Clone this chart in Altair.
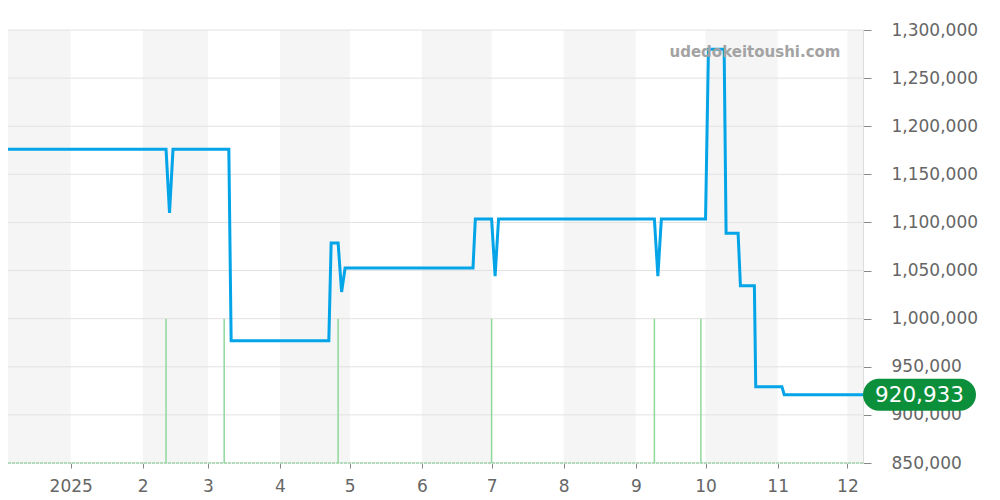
import altair as alt
import pandas as pd

# ---- data ----
line_dates = [
    "2024-12-01T14:00", "2025-02-11T00:00", "2025-02-12T12:00", "2025-02-14T00:00",
    "2025-03-10T00:00", "2025-03-11T00:00", "2025-04-22T00:00", "2025-04-23T00:00",
    "2025-04-26T00:00", "2025-04-27T12:00", "2025-04-29T00:00", "2025-06-23T00:00",
    "2025-06-24T00:00", "2025-07-01T00:00", "2025-07-02T12:00", "2025-07-04T00:00",
    "2025-09-09T00:00", "2025-09-10T12:00", "2025-09-12T00:00", "2025-10-01T00:00",
    "2025-10-02T06:00", "2025-10-09T00:00", "2025-10-09T20:00", "2025-10-15T00:00",
    "2025-10-16T00:00", "2025-10-22T00:00", "2025-10-22T14:00", "2025-11-02T20:00",
    "2025-11-03T20:00", "2025-12-07T17:00",
]
line_values = [
    1176000, 1176000, 1110000, 1176000,
    1176000, 977000, 977000, 1078600,
    1078600, 1027700, 1052700, 1052700,
    1103600, 1103600, 1044300, 1103600,
    1103600, 1044300, 1103600, 1103600,
    1280000, 1280000, 1088700, 1088700,
    1034300, 1034300, 929300, 929300,
    920933, 920933,
]

volume_dates = ["2025-02-11T00:00", "2025-03-08T00:00", "2025-04-26T00:00",
                "2025-07-01T00:00", "2025-09-09T00:00", "2025-09-29T00:00"]
volume_tops = [1000000, 1000000, 1000000, 1000000, 1000000, 1000000]

band_starts = ["2024-12-01T00:00", "2025-02-01T00:00", "2025-04-01T00:00",
               "2025-06-01T00:00", "2025-08-01T00:00", "2025-10-01T00:00",
               "2025-12-01T00:00"]
band_ends = ["2025-01-01T00:00", "2025-03-01T00:00", "2025-05-01T00:00",
             "2025-07-01T00:00", "2025-09-01T00:00", "2025-11-01T00:00",
             "2026-01-01T00:00"]

y_ticks = [850000, 900000, 950000, 1000000, 1050000, 1100000,
           1150000, 1200000, 1250000, 1300000]
baseline_value = [850000]

# visible window (the page margin hides the first few days)
x_domain = ["2024-12-05T01:00", "2025-12-07T17:00"]
watermark = "udedokeitoushi.com"

FONT = "DejaVu Sans"

line_df = pd.DataFrame({"date": line_dates, "value": line_values})
vol_df = pd.DataFrame({"date": volume_dates, "value": volume_tops})
band_df = pd.DataFrame({"date": band_starts, "end": band_ends})
grid_df = pd.DataFrame({"value": y_ticks})
base_df = pd.DataFrame({"value": baseline_value})
last_df = line_df.tail(1)

x_scale = alt.Scale(domain=x_domain)
y_scale = alt.Scale(domain=[850000, 1300000], nice=False, zero=False)

x_axis = alt.Axis(
    title=None,
    tickCount={"interval": "month", "step": 1},
    labelExpr="month(datum.value) == 0 ? '' + year(datum.value) : '' + (month(datum.value) + 1)",
)
y_axis = alt.Axis(title=None, orient="right", values=y_ticks,
                  labelExpr="format(datum.value, ',')")

X = alt.X("date:T", scale=x_scale, axis=x_axis)
Y = alt.Y("value:Q", scale=y_scale, axis=y_axis)

bands = alt.Chart(band_df).mark_rect(color="#f5f5f5", clip=True).encode(
    x=X, x2="end:T",
)

grid = alt.Chart(grid_df).mark_rule(color="#e2e2e2", strokeWidth=1).encode(y=Y)

baseline = alt.Chart(base_df).mark_rule(
    color="#b5dbbd", strokeWidth=2, strokeDash=[3, 1]
).encode(y=Y)

vol = alt.Chart(vol_df).mark_rule(color="#8fd89c", strokeWidth=1.5).encode(
    x=X, y=Y, y2=alt.datum(850000),
)

line = alt.Chart(line_df).mark_line(
    color="#03a4e8", strokeWidth=3, strokeJoin="miter", clip=True
).encode(x=X, y=Y)

pill_path = ("M -0.7168 -0.2832 L 0.7168 -0.2832 A 0.2832 0.2832 0 0 1 0.7168 0.2832 "
             "L -0.7168 0.2832 A 0.2832 0.2832 0 0 1 -0.7168 -0.2832 Z")
pill = alt.Chart(last_df).mark_point(
    shape=pill_path, size=12769, filled=True, color="#0b8f3b", opacity=1,
    strokeWidth=0, xOffset=56.5,
).encode(x=X, y=Y)
pill_text = alt.Chart(last_df).mark_text(
    color="white", fontSize=21.5, font=FONT, align="center", baseline="middle", dx=56.5, dy=1,
).encode(x=X, y=Y, text=alt.Text("value:Q", format=","))

wm = alt.Chart(pd.DataFrame({"t": [watermark]})).mark_text(
    font=FONT, fontSize=15, fontWeight="bold", color="#a3a3a3", align="center", baseline="middle",
).encode(text="t:N", x=alt.value(747), y=alt.value(22))

chart = alt.layer(bands, grid, baseline, vol, line, wm, pill, pill_text).properties(
    width=855, height=433,
    padding={"left": 0, "top": 22, "right": 129, "bottom": 34},
    autosize="none",
).configure_view(stroke=None).configure_axisX(
    domain=False, grid=False, tickColor="#888888", tickSize=5,
    labelColor="#666666", labelFontSize=17, labelFont=FONT, labelPadding=10,
).configure_axisY(
    grid=False, tickColor="#888888", tickSize=8, domainColor="#dddddd",
    labelColor="#666666", labelFontSize=17, labelFont=FONT, labelPadding=20,
)

chart.save("out.html", embed_options={"renderer": "svg", "actions": False})
